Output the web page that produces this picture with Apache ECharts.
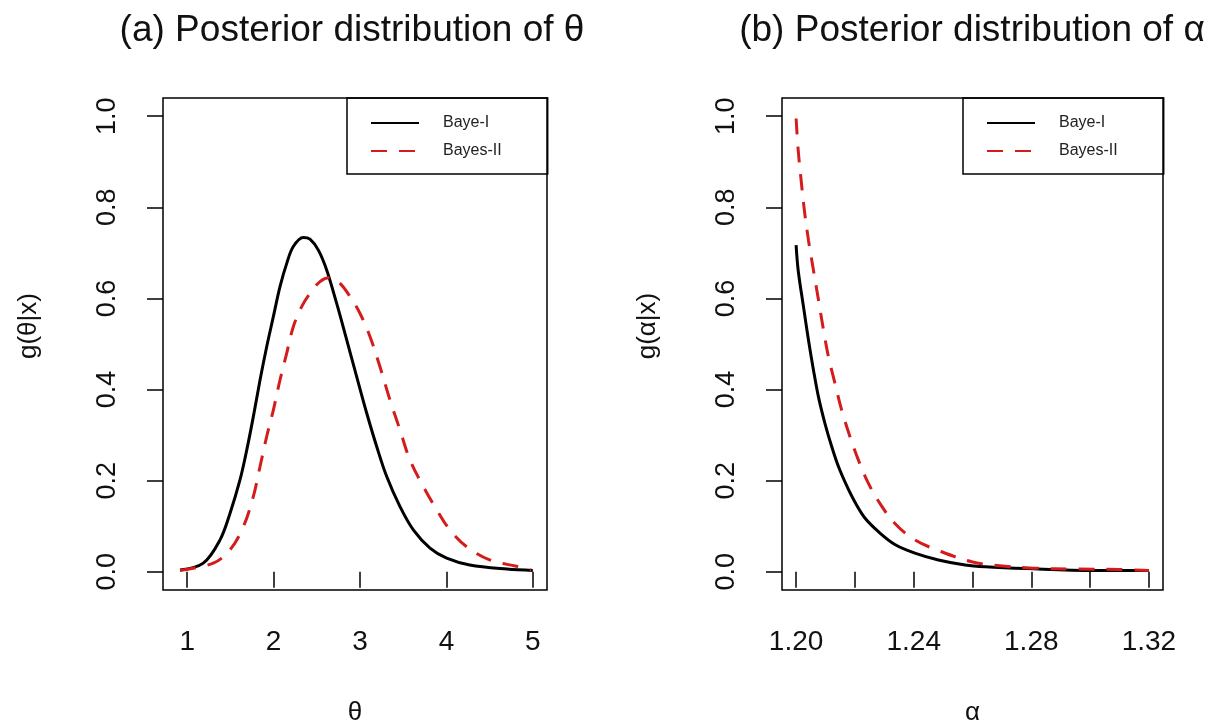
<!DOCTYPE html>
<html>
<head>
<meta charset="utf-8">
<script src="https://cdn.jsdelivr.net/npm/echarts@6/dist/echarts.min.js"></script>
<style>
    html, body { margin: 0; padding: 0; background: #fff; }
    #chart-container { width: 1216px; height: 725px; }
</style>
</head>
<body>
<div id="chart-container"></div>
<script>
// --- values ---
const thetaX1 = [0.917, 1.186, 1.38, 1.495, 1.61, 1.689, 1.765, 1.843, 1.92, 1.997, 2.074, 2.152, 2.228, 2.344, 2.421, 2.518, 2.615, 2.73, 2.846, 2.962, 3.078, 3.193, 3.309, 3.463, 3.617, 3.81, 4.003, 4.27, 4.70, 5.00];
const thetaY1 = [0.004, 0.019, 0.070, 0.128, 0.201, 0.267, 0.340, 0.421, 0.494, 0.560, 0.626, 0.677, 0.714, 0.734, 0.730, 0.706, 0.662, 0.589, 0.509, 0.428, 0.348, 0.275, 0.209, 0.143, 0.092, 0.052, 0.030, 0.015, 0.006, 0.003];
const thetaX2 = [0.917, 1.302, 1.495, 1.65, 1.765, 1.843, 1.92, 1.997, 2.074, 2.152, 2.228, 2.325, 2.421, 2.537, 2.653, 2.769, 2.884, 3.0, 3.116, 3.231, 3.347, 3.463, 3.579, 3.733, 3.888, 4.04, 4.235, 4.50, 4.81, 4.98];
const thetaY2 = [0.003, 0.019, 0.048, 0.099, 0.165, 0.231, 0.297, 0.355, 0.421, 0.480, 0.538, 0.582, 0.611, 0.637, 0.646, 0.633, 0.604, 0.567, 0.516, 0.450, 0.377, 0.311, 0.245, 0.187, 0.136, 0.092, 0.055, 0.026, 0.012, 0.004];

const alphaX1 = [1.2000, 1.2007, 1.2025, 1.2042, 1.2059, 1.2076, 1.2098, 1.2121, 1.2144, 1.2172, 1.2200, 1.2234, 1.2280, 1.2336, 1.2404, 1.2484, 1.2575, 1.2643, 1.2784, 1.3010, 1.3200];
const alphaY1 = [0.717, 0.662, 0.582, 0.509, 0.443, 0.384, 0.326, 0.275, 0.231, 0.189, 0.153, 0.118, 0.088, 0.060, 0.041, 0.026, 0.015, 0.011, 0.007, 0.003, 0.003];
const alphaX2 = [1.2000, 1.2007, 1.2017, 1.2028, 1.2042, 1.2059, 1.2076, 1.2093, 1.2110, 1.2132, 1.2155, 1.2183, 1.2212, 1.2246, 1.2285, 1.2336, 1.2404, 1.2495, 1.2597, 1.2693, 1.2807, 1.2954, 1.3101, 1.3200];
const alphaY2 = [0.995, 0.926, 0.860, 0.794, 0.728, 0.662, 0.597, 0.531, 0.472, 0.414, 0.355, 0.297, 0.245, 0.194, 0.150, 0.106, 0.070, 0.044, 0.022, 0.013, 0.008, 0.006, 0.005, 0.003];

const seriesNames = ['Baye-I', 'Bayes-II'];
const thetaTicks = [1, 2, 3, 4, 5];
const alphaTicks = [1.20, 1.22, 1.24, 1.26, 1.28, 1.30, 1.32];
const alphaLabels = [1.20, 1.24, 1.28, 1.32];
const densityTicks = [0, 0.2, 0.4, 0.6, 0.8, 1.0];

(function () {
    const FONT = '"Liberation Sans", Arial, sans-serif';
    const RED = '#d41c1c';

    const pairs = (xs, ys) => xs.map((x, i) => [x, ys[i]]);

    const chartDom = document.getElementById('chart-container');
    const myChart = echarts.init(chartDom, null, { renderer: 'canvas' });

    function xAxisFor(gridIndex, min, max, ticks, labels, digits, name) {
        return {
            type: 'value', gridIndex: gridIndex, min: min, max: max,
            splitLine: { show: false },
            axisLine: { show: false },
            axisTick: { show: true, inside: false, length: 16, customValues: ticks,
                        lineStyle: { color: '#000', width: 1.5 } },
            axisLabel: { customValues: labels, margin: 38, fontSize: 28, color: '#111', fontFamily: FONT,
                         formatter: v => v.toFixed(digits) },
            name: name, nameLocation: 'middle', nameGap: 110,
            nameTextStyle: { fontSize: 26, color: '#111', fontFamily: FONT }
        };
    }

    function yAxisFor(gridIndex, name) {
        return {
            type: 'value', gridIndex: gridIndex, min: -0.04, max: 1.04,
            splitLine: { show: false },
            axisLine: { show: false },
            axisTick: { show: true, inside: false, length: 16, customValues: densityTicks,
                        lineStyle: { color: '#000', width: 1.5 } },
            axisLabel: { customValues: densityTicks, rotate: 90, margin: 42, fontSize: 27, color: '#111',
                         fontFamily: FONT, formatter: v => v.toFixed(1) },
            name: name, nameLocation: 'middle', nameGap: 121,
            nameTextStyle: { fontSize: 26, color: '#111', fontFamily: FONT, padding: [0, 0, 0, 36] }
        };
    }

    function legendFor(left) {
        return {
            left: left, top: 98, orient: 'vertical',
            data: seriesNames,
            itemWidth: 48, itemHeight: 14, itemGap: 12,
            padding: [17, 46, 15, 23],
            borderColor: '#000', borderWidth: 1.5,
            // hide the marker dot the line icon gets by default
            itemStyle: { opacity: 0 },
            textStyle: { fontSize: 16, color: '#222', fontFamily: FONT, padding: [0, 0, 0, 19] }
        };
    }

    function lineSeries(name, xi, data, dashed) {
        return {
            name: name, type: 'line', xAxisIndex: xi, yAxisIndex: xi,
            data: data, showSymbol: false, symbol: 'none',
            smooth: 0.35,
            lineStyle: { color: dashed ? RED : '#000', width: 3, type: dashed ? [16, 12] : 'solid' },
            itemStyle: { color: dashed ? RED : '#000' },
            animation: false
        };
    }

    const gridBase = { top: 98, height: 492, show: true, borderColor: '#000', borderWidth: 1.5,
                       backgroundColor: 'transparent', outerBoundsMode: 'none', containLabel: false };

    const option = {
        backgroundColor: '#fff',
        animation: false,
        graphic: [
            { type: 'text', x: 352, y: 31, style: { text: '(a) Posterior distribution of θ',
              font: '37px ' + FONT, fill: '#111', align: 'center', verticalAlign: 'middle' } },
            { type: 'text', x: 972, y: 31, style: { text: '(b) Posterior distribution of α',
              font: '37px ' + FONT, fill: '#111', align: 'center', verticalAlign: 'middle' } }
        ],
        grid: [
            Object.assign({ left: 163, width: 384 }, gridBase),
            Object.assign({ left: 782, width: 381 }, gridBase)
        ],
        xAxis: [
            xAxisFor(0, 0.72, 5.164, thetaTicks, thetaTicks, 0, 'θ'),
            xAxisFor(1, 1.1952, 1.3248, alphaTicks, alphaLabels, 2, 'α')
        ],
        yAxis: [
            yAxisFor(0, 'g(θ|x)'),
            yAxisFor(1, 'g(α|x)')
        ],
        legend: [legendFor(347), legendFor(963)],
        series: [
            lineSeries(seriesNames[0], 0, pairs(thetaX1, thetaY1), false),
            lineSeries(seriesNames[1], 0, pairs(thetaX2, thetaY2), true),
            lineSeries(seriesNames[0], 1, pairs(alphaX1, alphaY1), false),
            lineSeries(seriesNames[1], 1, pairs(alphaX2, alphaY2), true)
        ]
    };
    myChart.setOption(option);
}());
</script>
</body>
</html>
